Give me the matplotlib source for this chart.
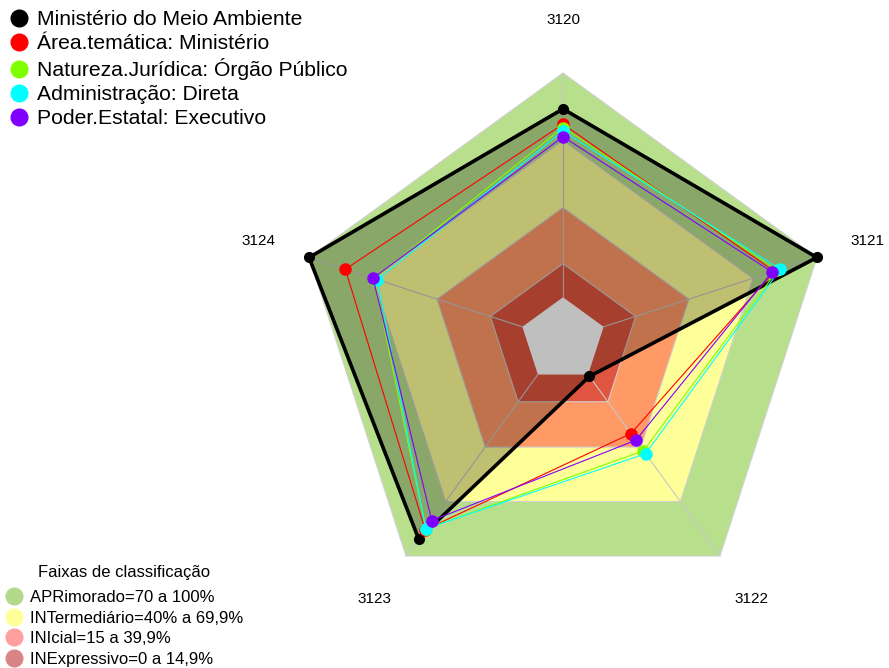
import numpy as np
import matplotlib.pyplot as plt
from matplotlib.lines import Line2D

plt.rcParams['font.family'] = ['Liberation Sans', 'DejaVu Sans']

# eixos do radar (sentido horario a partir do topo)
eixos = ['3120', '3121', '3122', '3123', '3124']

# valores (fracao de 0 a 1) de cada serie
v_ministerio = [0.84, 1.00, 0.01, 0.905, 1.00]
v_area = [0.772, 0.80, 0.325, 0.855, 0.83]
v_natureza = [0.757, 0.815, 0.42, 0.85, 0.695]
v_admin = [0.741, 0.828, 0.436, 0.85, 0.68]
v_poder = [0.716, 0.79, 0.362, 0.805, 0.70]

series_nomes = ['Ministério do Meio Ambiente', 'Área.temática: Ministério',
                'Natureza.Jurídica: Órgão Público', 'Administração: Direta',
                'Poder.Estatal: Executivo']
series_valores = [v_ministerio, v_area, v_natureza, v_admin, v_poder]
series_cores = ['black', '#ff0000', '#80ff00', '#00ffff', '#8000ff']

# faixas de classificacao
faixas_nomes = ['APRimorado=70 a 100%', 'INTermediário=40% a 69,9%',
                'INIcial=15 a 39,9%', 'INExpressivo=0 a 14,9%']
faixas_limites = [1.0, 0.70, 0.40, 0.15]
faixas_cores = ['#b8e08c', '#ffff99', '#ff9966', '#e05540']
faixas_cores_legenda = ['#b3d98b', '#ffff99', '#ff9f9f', '#d98585']

r0 = 0.16  # buraco central
n = len(eixos)
ang = np.pi / 2 - 2 * np.pi * np.arange(n) / n


def raio(v):
    return r0 + (1 - r0) * np.asarray(v)


def xy(v):
    r = raio(v)
    return r * np.cos(ang), r * np.sin(ang)


fig = plt.figure(figsize=(8.89, 6.68), dpi=100)
ax = fig.add_axes([0, 0, 1, 1])
ax.set_xlim(-563 / 267, (889 - 563) / 267)
ax.set_ylim(-328 / 267, 340 / 267)
ax.axis('off')

# faixas (pentagonos do maior para o menor)
for lim, cor in zip(faixas_limites, faixas_cores):
    x, y = xy(np.full(n, lim))
    ax.fill(x, y, facecolor=cor, edgecolor='#d0d0d0', lw=0.8, zorder=1)
x, y = xy(np.zeros(n))
ax.fill(x, y, facecolor='white', edgecolor='none', zorder=1)

# raios
for a in ang:
    ax.plot([r0 * np.cos(a), np.cos(a)], [r0 * np.sin(a), np.sin(a)],
            color='#c8c8c8', lw=0.8, zorder=2)

# rotulos dos eixos
for a, nome in zip(ang, eixos):
    ax.text(1.2 * np.cos(a), 1.2 * np.sin(a), nome, ha='center', va='center',
            fontsize=11, zorder=5)

# series
for i, (vals, cor) in enumerate(zip(series_valores, series_cores)):
    x, y = xy(vals)
    xs = np.append(x, x[0])
    ys = np.append(y, y[0])
    if i == 0:
        ax.fill(x, y, facecolor='black', alpha=0.25, edgecolor='none', zorder=3)
        ax.plot(xs, ys, color=cor, lw=2.6, zorder=4)
        ax.plot(x, y, 'o', color=cor, ms=7, zorder=4)
    else:
        ax.plot(xs, ys, color=cor, lw=0.8, zorder=4 + i)
        ax.plot(x, y, 'o', color=cor, ms=8, zorder=4 + i)

# legenda das series
h1 = [Line2D([], [], marker='o', ls='none', color=c, ms=12) for c in series_cores]
leg1 = ax.legend(h1, series_nomes, loc='upper left', bbox_to_anchor=(-0.007, 1.004),
                 frameon=False, fontsize=15.2, handletextpad=0.26, labelspacing=0.24,
                 borderaxespad=0.2, handlelength=1.2)
ax.add_artist(leg1)

# legenda das faixas
h2 = [Line2D([], [], marker='o', ls='none', color=c, ms=12) for c in faixas_cores_legenda]
leg2 = ax.legend(h2, faixas_nomes, loc='lower left', bbox_to_anchor=(-0.0065, -0.013),
                 frameon=False, fontsize=12, title='Faixas de classificação',
                 title_fontsize=12, handletextpad=0.35, labelspacing=0.33,
                 borderaxespad=0.2, handlelength=1.2)
leg2._legend_box.sep = 7

fig.savefig('out.png', dpi=100)
